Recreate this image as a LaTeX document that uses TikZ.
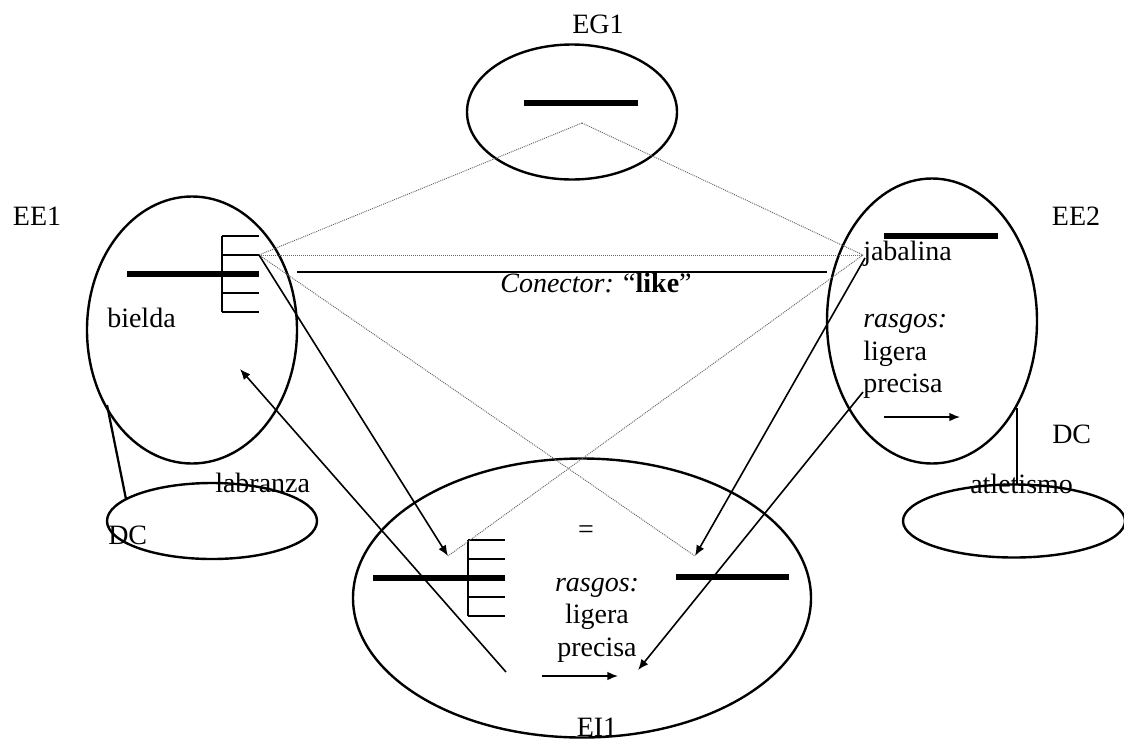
\documentclass[tikz,border=0pt]{standalone}
\usepackage{fontspec}
\setmainfont{Liberation Serif}
\usetikzlibrary{shapes.geometric,arrows.meta}
\def\pxl{0.75pt}
\begin{document}
\begin{tikzpicture}[x=0.75pt,y=-0.75pt,
  txt/.style={font=\fontsize{21}{25}\selectfont, inner sep=0pt, anchor=base},
  txtw/.style={txt, anchor=base west},
  oval/.style={draw, ellipse, line width=1.8pt, inner sep=0pt},
  bar/.style={line width=4pt},
  comb/.style={line width=1.7pt},
  arr/.style={line width=1.2pt, -{Latex[length=8pt,width=6.5pt]}},
  dots/.style={line width=0.7pt, black!60, dash pattern=on 0.75pt off 0.75pt},
  conn/.style={line width=1.7pt},
]
\useasboundingbox (0,0) rectangle (1124,740);

% ellipses
\node[oval, minimum width=210*\pxl, minimum height=135*\pxl] (EG) at (572,112) {};
\node[oval, minimum width=210*\pxl, minimum height=267*\pxl] (EEa) at (192,330) {};
\node[oval, minimum width=210*\pxl, minimum height=285*\pxl] (EEb) at (932,321) {};
\node[oval, minimum width=458*\pxl, minimum height=279*\pxl] (EI) at (582,598) {};
\node[oval, minimum width=210*\pxl, minimum height=76*\pxl] (DCa) at (212,521) {};
\node[oval, minimum width=222*\pxl, minimum height=73*\pxl] (DCb) at (1014,521) {};

% labels
\node[txt] (lEG) at (598,33) {EG1};
\node[txt] (lEEa) at (37,225) {EE1};
\node[txt] (lEEb) at (1076,225) {EE2};
\node[txt] (lEI) at (597,736) {EI1};
\node[txtw] (bielda) at (107,327) {bielda};
\node[txtw] (jabalina) at (863,260) {jabalina};
\node[txtw] (r2a) at (863,327) {\itshape rasgos:};
\node[txtw] (r2b) at (863,360) {ligera};
\node[txtw] (r2c) at (863,392) {precisa};
\node[txt] (eq) at (586,538) {=};
\node[txt] (r3a) at (597,591) {\itshape rasgos:};
\node[txt] (r3b) at (597,623) {ligera};
\node[txt] (r3c) at (597,656) {precisa};
\node[txtw] (labranza) at (215,492) {labranza};
\node[txtw] (dca) at (108,544) {DC};
\node[txtw] (dcb) at (1052,443) {DC};
\node[txtw] (atl) at (970,493) {atletismo};
\node[txt] (conlab) at (596,292) {\textit{Conector:} ``\textbf{like}''};

% coordinates
\coordinate (apex) at (582,123);
\coordinate (lc) at (259,255);
\coordinate (jab) at (863,255);
\coordinate (eiL) at (448,556);
\coordinate (eiR) at (695,556);
\coordinate (c1) at (297,272);
\coordinate (c2) at (827,272);

% bars
\draw[bar] (524,103) -- (638,103);
\draw[bar] (127,274) -- (259,274);
\draw[bar] (884,236) -- (998,236);
\draw[bar] (373,578) -- (505,578);
\draw[bar] (676,577) -- (789,577);

% combs
\draw[comb] (222,236) -- (222,312);
\foreach \yy in {236,255,274,293,312} \draw[comb] (222,\yy) -- (259,\yy);
\draw[comb] (468,540) -- (468,616);
\foreach \yy in {540,559,578,597,616} \draw[comb] (468,\yy) -- (505,\yy);

% dotted relations
\draw[dots] (apex) -- (lc);
\draw[dots] (apex) -- (jab);
\draw[dots] (lc) -- (jab);
\draw[dots] (lc) -- (eiR);
\draw[dots] (jab) -- (eiL);

% connector line
\draw[conn] (c1) -- (c2);

% arrows
\coordinate (a2s) at (506,672);
\coordinate (a2e) at (240,369);
\coordinate (a3s) at (865,258);
\coordinate (a4s) at (863,392);
\coordinate (a4e) at (638,670);
\draw[arr] (lc) -- (eiL);
\draw[arr] (a2s) -- (a2e);
\draw[arr] (a3s) -- (eiR);
\draw[arr] (a4s) -- (a4e);

\coordinate (s1a) at (884,417);
\coordinate (s1b) at (960,417);
\coordinate (s2a) at (542,676);
\coordinate (s2b) at (618,676);
\draw[arr] (s1a) -- (s1b);
\draw[arr] (s2a) -- (s2b);

% links to DC ellipses
\coordinate (d1a) at (107,405);
\coordinate (d1b) at (126,499);
\coordinate (d2a) at (1017,408);
\coordinate (d2b) at (1017,484);
\draw[conn] (d1a) -- (d1b);
\draw[conn] (d2a) -- (d2b);
\end{tikzpicture}
\end{document}
